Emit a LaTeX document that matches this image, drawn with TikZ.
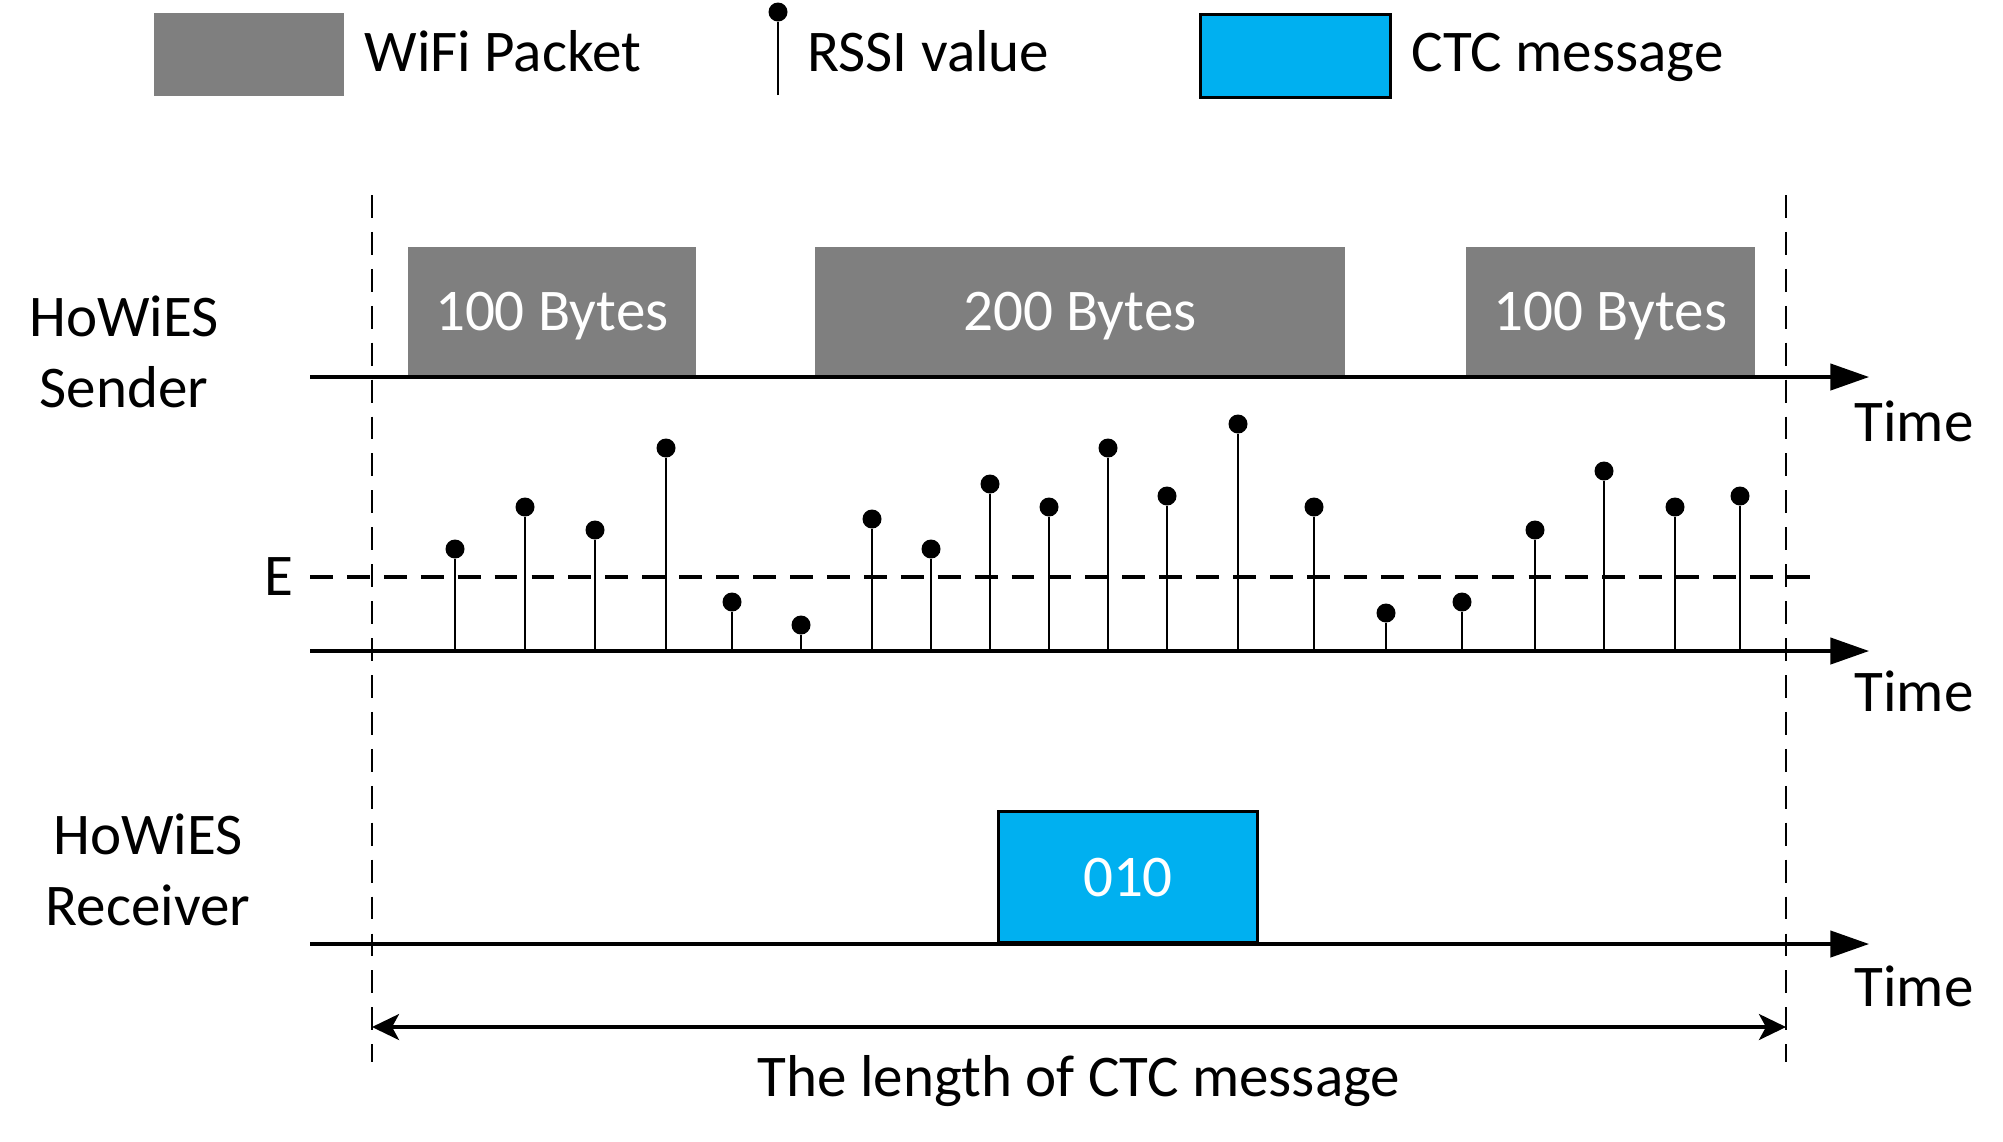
\documentclass[tikz,border=0pt]{standalone}
\usepackage{fontspec}
\setmainfont{Carlito}
\usepackage{tikz}
\usetikzlibrary{arrows.meta}

\definecolor{pktgray}{HTML}{7F7F7F}
\definecolor{ctcblue}{HTML}{00B0F0}

\tikzset{
  packet/.style={fill=pktgray,text=white,inner sep=0pt,text depth=0pt},
  ctcbox/.style={draw,line width=0.8pt,fill=ctcblue,text=white,inner sep=0pt,text depth=0pt},
  axis/.style={line width=0.9pt,-{Triangle[length=11pt,width=7.5pt]}},
  bound/.style={line width=0.7pt,dash pattern=on 6.5pt off 4pt},
  stem/.style={line width=0.7pt},
  dot/.style={circle,fill,inner sep=0pt,minimum size=0.19cm}
}

\begin{document}
\begin{tikzpicture}[x=0.01cm,y=-0.01cm,font=\fontsize{16.8}{20}\selectfont]
  \useasboundingbox (0,0) rectangle (2003,1141);

  % legend
  \node[packet,minimum width=1.9cm,minimum height=0.83cm,anchor=north west] (L-1) at (153,12) {};
  \node[anchor=base west] (T-1) at (352,71) {WiFi Packet};
  \node[dot] (L-2) at (778,12) {};
  \coordinate (L-2b) at (778,95);
  \draw[stem] (L-2b) -- (L-2);
  \node[anchor=base west] (T-2) at (795,71) {RSSI value};
  \node[ctcbox,minimum width=1.9cm,minimum height=0.83cm,anchor=north west] (L-3) at (1199,13) {};
  \node[anchor=base west] (T-3) at (1399,71) {CTC message};

  % bounds of the CTC message
  \coordinate (B-1) at (372,195);
  \coordinate (B-2) at (372,1062);
  \coordinate (B-3) at (1786,195);
  \coordinate (B-4) at (1786,1062);
  \draw[bound] (B-1) -- (B-2);
  \draw[bound] (B-3) -- (B-4);

  % sender
  \node[align=center] (S) at (124,352) {HoWiES\\Sender};
  \node[packet,minimum width=2.88cm,minimum height=1.29cm,anchor=south west] (P-1) at (407,377) {100 Bytes};
  \node[packet,minimum width=5.30cm,minimum height=1.29cm,anchor=south west] (P-2) at (814,377) {200 Bytes};
  \node[packet,minimum width=2.89cm,minimum height=1.29cm,anchor=south west] (P-3) at (1465,377) {100 Bytes};
  \coordinate (A-1) at (310,377);
  \coordinate (A-2) at (1869,377);
  \draw[axis] (A-1) -- (A-2);
  \node (Time-1) at (1914,421) {Time};

  % RSSI values
  \coordinate (E-1) at (310,577);
  \coordinate (E-2) at (1817,577);
  \draw[line width=0.9pt,dash pattern=on 6.5pt off 4pt] (E-1) -- (E-2);
  \node (E) at (279,577) {E};
  \foreach \i/\x/\y in {1/455/549,2/525/507,3/595/530,4/666/448,5/732/602,
                        6/801/625,7/872/519,8/931/549,9/990/484,10/1049/507,
                        11/1108/448,12/1167/496,13/1238/424,14/1314/507,15/1386/613,
                        16/1462/602,17/1535/530,18/1604/471,19/1675/507,20/1740/496}{
    \node[dot] (D-\i) at (\x,\y) {};
    \coordinate (D-\i b) at (\x,651);
    \draw[stem] (D-\i b) -- (D-\i);
  }
  \coordinate (A-3) at (310,651);
  \coordinate (A-4) at (1869,651);
  \draw[axis] (A-3) -- (A-4);
  \node (Time-2) at (1914,691) {Time};

  % receiver
  \node[align=center] (R) at (148,870) {HoWiES\\Receiver};
  \node[ctcbox,minimum width=2.59cm,minimum height=1.31cm,anchor=south west] (C) at (997,944) {010};
  \coordinate (A-5) at (310,944);
  \coordinate (A-6) at (1869,944);
  \draw[axis] (A-5) -- (A-6);
  \node (Time-3) at (1914,986) {Time};

  % length
  \coordinate (M-1) at (372,1027);
  \coordinate (M-2) at (1786,1027);
  \draw[line width=0.9pt,{Stealth[length=7.7pt,width=7.4pt,inset=2pt]}-{Stealth[length=7.7pt,width=7.4pt,inset=2pt]}] (M-1) -- (M-2);
  \node (M) at (1079,1081) {The length of CTC message};
\end{tikzpicture}
\end{document}
